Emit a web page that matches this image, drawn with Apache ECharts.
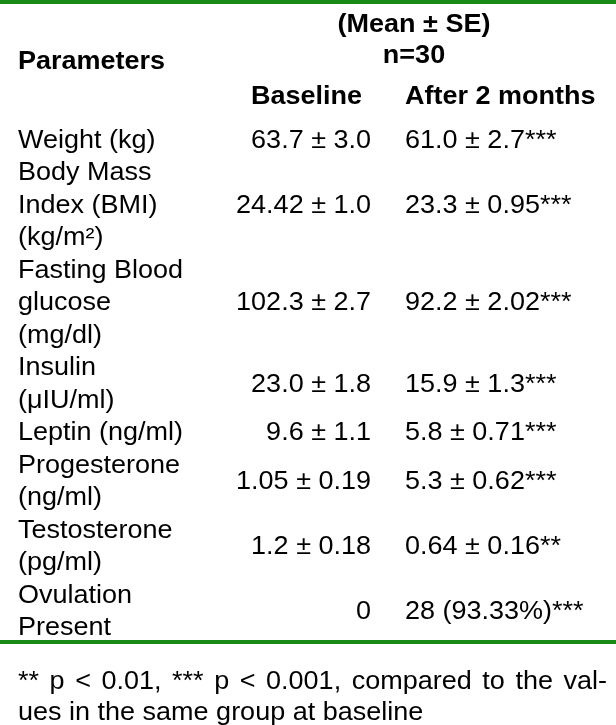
<!DOCTYPE html>
<html><head><meta charset="utf-8">
<script src="https://cdn.jsdelivr.net/npm/echarts@6/dist/echarts.min.js"></script>
<style>html,body{margin:0;padding:0;background:#fff}#c{width:616px;height:725px}</style>
</head><body><div id="c"></div><script>
// ---- data ----
const parameters = [
  'Weight (kg)',
  'Body Mass\nIndex (BMI)\n(kg/m²)',
  'Fasting Blood\nglucose\n(mg/dl)',
  'Insulin\n(μIU/ml)',
  'Leptin (ng/ml)',
  'Progesterone\n(ng/ml)',
  'Testosterone\n(pg/ml)',
  'Ovulation\nPresent'
];
const baseline = ['63.7 ± 3.0', '24.42 ± 1.0', '102.3 ± 2.7', '23.0 ± 1.8', '9.6 ± 1.1', '1.05 ± 0.19', '1.2 ± 0.18', '0'];
const after2Months = ['61.0 ± 2.7***', '23.3 ± 0.95***', '92.2 ± 2.02***', '15.9 ± 1.3***', '5.8 ± 0.71***', '5.3 ± 0.62***', '0.64 ± 0.16**', '28 (93.33%)***'];
const columnHeaders = ['Parameters', 'Baseline', 'After 2 months'];
const groupHeader = ['(Mean ± SE)', 'n=30'];
const footnoteLines = ['** p < 0.01, *** p < 0.001, compared to the val-', 'ues in the same group at baseline'];

// ---- layout / style ----
const FONT = "'Liberation Sans', Arial, sans-serif";
const FS = 25;
const SX = 1.08;            // horizontal stretch of the glyphs
const LINE_H = 32.5;
const FIRST_LINE_Y = 141;
const COL_X = [18, 371, 405];
const COL_ALIGN = ['left', 'right', 'left'];
const GREEN = '#178a17';
const W = 616;

// row centres in "line units" derived from the number of text lines in each row
const rowCenter = [];
let acc = 0;
parameters.forEach(p => {
  const n = p.split('\n').length;
  rowCenter.push(acc + (n - 1) / 2);
  acc += n;
});
const totalLines = acc;

const cells = [];
parameters.forEach((p, r) => {
  [p, baseline[r], after2Months[r]].forEach((t, c) => cells.push([COL_X[c], rowCenter[r], c, t]));
});

// footnote justification (first line justified to the column width)
const ctx = document.createElement('canvas').getContext('2d');
ctx.font = FS + 'px ' + FONT;
const words = footnoteLines[0].split(' ');
const wordsW = words.reduce((s, w) => s + ctx.measureText(w).width, 0);
const spW = (589 / SX - wordsW) / (words.length - 1);
const foot1 = words.map(w => '{w|' + w + '}').join('{sp| }');

const chart = echarts.init(document.getElementById('c'), null, {renderer: 'canvas'});
const bold = {fontFamily: FONT, fontSize: FS, fontWeight: 'bold', fill: '#000'};
function hdr(text, x, y, align) {
  return {type: 'text', x: x, y: y, scaleX: SX,
    style: Object.assign({text: text, align: align, verticalAlign: 'middle'}, bold)};
}
chart.setOption({
  animation: false,
  backgroundColor: '#fff',
  grid: {left: 0, right: 0, top: FIRST_LINE_Y - LINE_H / 2, height: LINE_H * totalLines},
  xAxis: {type: 'value', min: 0, max: W, show: false},
  yAxis: {type: 'value', min: -0.5, max: totalLines - 0.5, inverse: true, show: false},
  graphic: [
    {type: 'rect', shape: {x: 0, y: 0, width: W, height: 4}, style: {fill: GREEN}},
    {type: 'rect', shape: {x: 0, y: 640, width: W, height: 4}, style: {fill: GREEN}},
    hdr(groupHeader[0], 414, 25, 'center'),
    hdr(groupHeader[1], 414, 56, 'center'),
    hdr(columnHeaders[0], 18, 62, 'left'),
    hdr(columnHeaders[1], 251, 97, 'left'),
    hdr(columnHeaders[2], 405, 97, 'left'),
    {type: 'text', x: 18, y: 682, scaleX: SX, style: {text: foot1, align: 'left', verticalAlign: 'middle',
      rich: {w: {fontFamily: FONT, fontSize: FS, fill: '#000'}, sp: {fontFamily: FONT, fontSize: FS, width: spW}}}},
    {type: 'text', x: 18, y: 713, scaleX: SX, style: {text: footnoteLines[1], align: 'left', verticalAlign: 'middle', fontFamily: FONT, fontSize: FS, fill: '#000'}}
  ],
  series: [{
    type: 'custom',
    coordinateSystem: 'cartesian2d',
    data: cells,
    renderItem: function (params, api) {
      const pt = api.coord([api.value(0), api.value(1)]);
      const c = api.value(2);
      return {
        type: 'text', x: pt[0], y: pt[1], scaleX: SX,
        style: {
          text: cells[params.dataIndex][3],
          fontFamily: FONT, fontSize: FS, fill: '#000',
          align: COL_ALIGN[c], verticalAlign: 'middle', lineHeight: LINE_H
        }
      };
    }
  }]
});
</script></body></html>
